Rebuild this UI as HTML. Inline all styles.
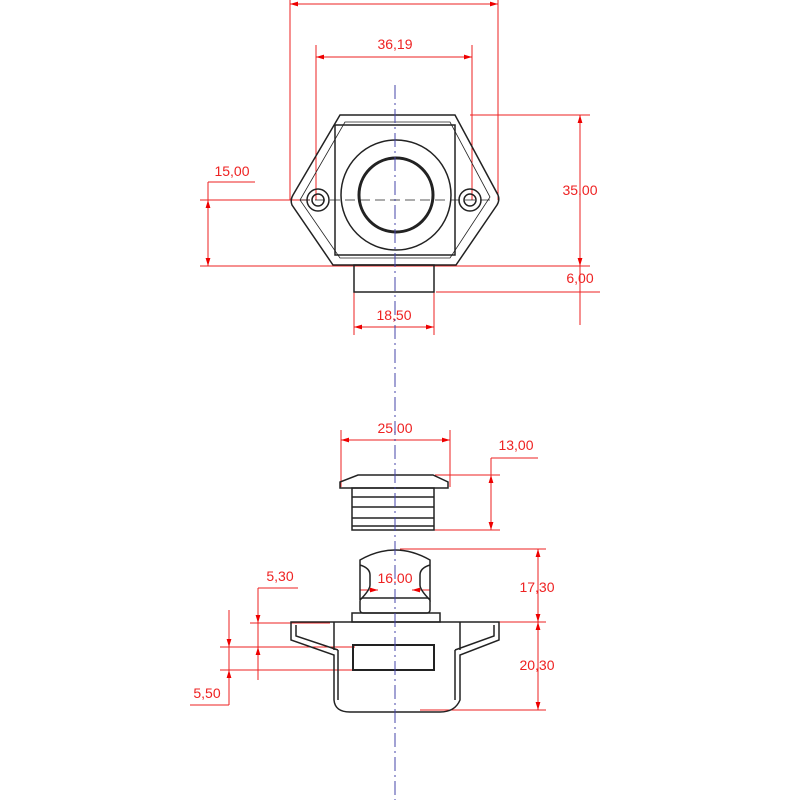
<!DOCTYPE html>
<html><head><meta charset="utf-8"><style>html,body{margin:0;padding:0;background:#fff}</style></head><body>
<svg width="800" height="800" viewBox="0 0 800 800" xmlns="http://www.w3.org/2000/svg">
<defs>
<marker id="a" viewBox="0 0 10 10" refX="10" refY="5" markerWidth="8" markerHeight="8" orient="auto-start-reverse"><path d="M0,2 L10,5 L0,8z" fill="#e00"/></marker>
</defs>
<g stroke="#e22" stroke-width="1" fill="none">
<line x1="290" y1="0" x2="290" y2="200"/><line x1="498" y1="0" x2="498" y2="200"/>
<line x1="290" y1="4" x2="498" y2="4" marker-start="url(#a)" marker-end="url(#a)"/>
<line x1="316" y1="45" x2="316" y2="200"/><line x1="472" y1="45" x2="472" y2="200"/>
<line x1="316" y1="57" x2="472" y2="57" marker-start="url(#a)" marker-end="url(#a)"/>
<line x1="200" y1="200" x2="310" y2="200"/><line x1="200" y1="266" x2="590" y2="266"/>
<line x1="208" y1="200" x2="208" y2="266" marker-start="url(#a)" marker-end="url(#a)"/>
<line x1="208" y1="182" x2="255" y2="182"/><line x1="208" y1="182" x2="208" y2="200"/>
<line x1="470" y1="115" x2="590" y2="115"/>
<line x1="580" y1="115" x2="580" y2="266" marker-start="url(#a)" marker-end="url(#a)"/>
<line x1="436" y1="292" x2="600" y2="292"/>
<line x1="580" y1="266" x2="580" y2="325"/>
<line x1="354" y1="292" x2="354" y2="335"/><line x1="434" y1="292" x2="434" y2="335"/>
<line x1="354" y1="327" x2="434" y2="327" marker-start="url(#a)" marker-end="url(#a)"/>
<line x1="341" y1="430" x2="341" y2="487"/><line x1="450" y1="430" x2="450" y2="487"/>
<line x1="341" y1="440" x2="450" y2="440" marker-start="url(#a)" marker-end="url(#a)"/>
<line x1="435" y1="475" x2="500" y2="475"/><line x1="430" y1="530" x2="500" y2="530"/>
<line x1="491" y1="475" x2="491" y2="530" marker-start="url(#a)" marker-end="url(#a)"/>
<line x1="491" y1="458" x2="491" y2="475"/><line x1="491" y1="458" x2="538" y2="458"/>
<line x1="400" y1="549" x2="546" y2="549"/><line x1="440" y1="622" x2="546" y2="622"/>
<line x1="538" y1="549" x2="538" y2="622" marker-start="url(#a)" marker-end="url(#a)"/>
<line x1="420" y1="710" x2="546" y2="710"/>
<line x1="538" y1="622" x2="538" y2="710" marker-start="url(#a)" marker-end="url(#a)"/>
<line x1="360" y1="590" x2="378" y2="590" marker-end="url(#a)"/><line x1="430" y1="590" x2="412" y2="590" marker-end="url(#a)"/>
<line x1="360" y1="565" x2="360" y2="595"/><line x1="430" y1="565" x2="430" y2="595"/>
<line x1="250" y1="623" x2="330" y2="623"/>
<line x1="220" y1="647" x2="355" y2="647"/><line x1="220" y1="670" x2="355" y2="670"/>
<line x1="258" y1="588" x2="258" y2="680"/><line x1="258" y1="588" x2="298" y2="588"/>
<line x1="258" y1="605" x2="258" y2="623" marker-end="url(#a)"/><line x1="258" y1="665" x2="258" y2="647" marker-end="url(#a)"/>
<line x1="229" y1="610" x2="229" y2="705"/><line x1="190" y1="705" x2="229" y2="705"/>
<line x1="229" y1="630" x2="229" y2="647" marker-end="url(#a)"/><line x1="229" y1="688" x2="229" y2="670" marker-end="url(#a)"/>
</g>
<g fill="#e22" font-family="Liberation Sans, sans-serif" font-size="14" text-anchor="middle">
<text x="395" y="49">36,19</text><text x="232" y="176">15,00</text><text x="580" y="195">35,00</text>
<text x="580" y="283">6,00</text><text x="394" y="320">18,50</text><text x="395" y="433">25,00</text>
<text x="516" y="450">13,00</text><text x="395" y="583">16,00</text><text x="537" y="592">17,30</text>
<text x="537" y="670">20,30</text><text x="280" y="581">5,30</text><text x="207" y="698">5,50</text>
</g>
<g stroke="#222" stroke-width="1.5" fill="none">
<path d="M340,115 L455,115 L498,195 Q500,200 497,205 L456,265 L333,265 L292,205 Q290,200 293,195 Z"/>
<path d="M345,122 L450,122 L490,197 L450,258 L340,258 L300,200 Z" stroke-width="0.8"/>
<rect x="335" y="125" width="120" height="130"/>
<circle cx="396" cy="195" r="55"/><circle cx="396" cy="195" r="37" stroke-width="3"/>
<circle cx="318" cy="200" r="11"/><circle cx="318" cy="200" r="6"/>
<circle cx="470" cy="200" r="11"/><circle cx="470" cy="200" r="6"/>
<rect x="354" y="265" width="80" height="27"/>
<line x1="300" y1="200" x2="490" y2="200" stroke-dasharray="10,5" stroke-width="0.8"/>
<path d="M358,475 L433,475 L448,482 L448,488 L340,488 L340,482 Z"/>
<rect x="352" y="488" width="82" height="42"/>
<line x1="352" y1="497" x2="434" y2="497"/><line x1="352" y1="507" x2="434" y2="507"/>
<line x1="352" y1="518" x2="434" y2="518"/><line x1="352" y1="526" x2="434" y2="526"/>
<path d="M360,600 L360,560 Q395,540 430,560 L430,600 Q420,590 420,585 L420,575 Q420,568 430,565 M360,565 Q370,568 370,575 L370,585 Q370,590 360,600"/>
<rect x="360" y="598" width="70" height="15" rx="3"/>
<rect x="352" y="613" width="88" height="9"/>
<path d="M291,622 L499,622 L499,640 L460,655 L460,700 Q455,712 440,712 L350,712 Q335,712 334,700 L334,655 L291,640 Z"/>
<path d="M296,625 L296,636 L338,650 M494,625 L494,636 L455,650 M338,650 L338,700 M455,650 L455,700 M334,622 L334,650 M460,622 L460,650"/>
<rect x="353" y="645" width="81" height="25" stroke-width="2"/>
</g>
<line x1="395" y1="85" x2="395" y2="800" stroke="#44a" stroke-width="1" stroke-dasharray="14,4,2,4"/>
</svg>
</body></html>
